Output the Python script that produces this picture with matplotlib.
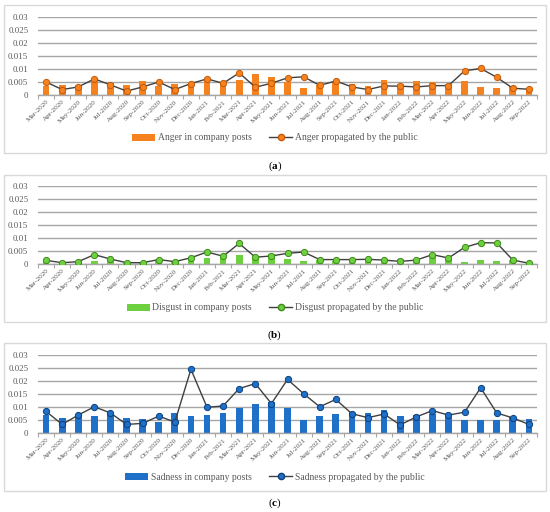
import numpy as np
import matplotlib
matplotlib.use('Agg')
import matplotlib.pyplot as plt
from matplotlib.patches import Rectangle
from matplotlib.lines import Line2D
from matplotlib.patches import Patch

plt.rcParams['font.family'] = ['Liberation Serif', 'DejaVu Serif']
plt.rcParams['mathtext.fontset'] = 'custom'
plt.rcParams['mathtext.rm'] = 'Liberation Serif'
plt.rcParams['mathtext.bf'] = 'Liberation Serif:bold'

months = ['Mar-2020', 'Apr-2020', 'May-2020', 'Jun-2020', 'Jul-2020', 'Aug-2020', 'Sep-2020',
          'Oct-2020', 'Nov-2020', 'Dec-2020', 'Jan-2021', 'Feb-2021', 'Mar-2021', 'Apr-2021',
          'May-2021', 'Jun-2021', 'Jul-2021', 'Aug-2021', 'Sep-2021', 'Oct-2021', 'Nov-2021',
          'Dec-2021', 'Jan-2022', 'Feb-2022', 'Mar-2022', 'Apr-2022', 'May-2022', 'Jun-2022',
          'Jul-2022', 'Aug-2022', 'Sep-2022']

anger_company = [0.0036, 0.0040, 0.0040, 0.0062, 0.0045, 0.0039, 0.0053, 0.0034, 0.0041, 0.0050,
                 0.0053, 0.0050, 0.0057, 0.0080, 0.0068, 0.0049, 0.0026, 0.0040, 0.0049, 0.0041,
                 0.0034, 0.0057, 0.0041, 0.0055, 0.0050, 0.0041, 0.0052, 0.0032, 0.0027, 0.0036,
                 0.0028]
anger_public = [0.0050, 0.0021, 0.0031, 0.0062, 0.0039, 0.0015, 0.0031, 0.0050, 0.0021, 0.0044,
                0.0062, 0.0045, 0.0085, 0.0030, 0.0045, 0.0066, 0.0070, 0.0037, 0.0054, 0.0031,
                0.0021, 0.0035, 0.0034, 0.0031, 0.0036, 0.0036, 0.0093, 0.0102, 0.0068, 0.0026,
                0.0022]

disgust_company = [0.0013, 0.0003, 0.0008, 0.0013, 0.0013, 0.0003, 0.0003, 0.0010, 0.0006, 0.0014,
                   0.0022, 0.0022, 0.0035, 0.0019, 0.0039, 0.0021, 0.0012, 0.0014, 0.0012, 0.0014,
                   0.0017, 0.0014, 0.0019, 0.0017, 0.0034, 0.0021, 0.0009, 0.0015, 0.0013, 0.0014,
                   0.0002]
disgust_public = [0.0014, 0.0005, 0.0009, 0.0036, 0.0019, 0.0005, 0.0005, 0.0017, 0.0009, 0.0024,
                  0.0046, 0.0030, 0.0079, 0.0026, 0.0031, 0.0041, 0.0046, 0.0017, 0.0017, 0.0017,
                  0.0018, 0.0015, 0.0010, 0.0015, 0.0036, 0.0023, 0.0064, 0.0082, 0.0081, 0.0015,
                  0.0003]

sadness_company = [0.0069, 0.0059, 0.0067, 0.0064, 0.0072, 0.0059, 0.0053, 0.0041, 0.0077, 0.0065,
                   0.0069, 0.0078, 0.0097, 0.0113, 0.0119, 0.0096, 0.0050, 0.0064, 0.0072, 0.0082,
                   0.0077, 0.0087, 0.0067, 0.0068, 0.0072, 0.0063, 0.0050, 0.0050, 0.0050, 0.0060,
                   0.0054]
sadness_public = [0.0083, 0.0033, 0.0069, 0.0101, 0.0077, 0.0033, 0.0037, 0.0065, 0.0042, 0.0245,
                  0.0099, 0.0104, 0.0171, 0.0190, 0.0113, 0.0206, 0.0151, 0.0101, 0.0129, 0.0074,
                  0.0059, 0.0073, 0.0031, 0.0062, 0.0086, 0.0069, 0.0080, 0.0174, 0.0077, 0.0058,
                  0.0033]

yticks = [0, 0.005, 0.01, 0.015, 0.02, 0.025, 0.03]
ytick_labels = ['0', '0.005', '0.01', '0.015', '0.02', '0.025', '0.03']

panels = [
    ('a', anger_company, anger_public, 'Anger', '#F5821F', '#C35A0A', 17, 138, 5, 153, 166),
    ('b', disgust_company, disgust_public, 'Disgust', '#6DD13F', '#3E8A1A', 186, 308, 175, 322, 335),
    ('c', sadness_company, sadness_public, 'Sadness', '#1F70C8', '#0D3F7A', 355, 477, 343, 491, 503),
]

W, H = 550, 512
fig = plt.figure(figsize=(5.5, 5.12), dpi=100)
grey = '#595959'
x = np.arange(len(months))

for letter, comp, pub, name, col, edge, top, leg_y, box_top, box_bot, lab_y in panels:
    # panel frame
    fig.patches.append(Rectangle((4 / W, 1 - box_bot / H), 542 / W, (box_bot - box_top) / H,
                                 transform=fig.transFigure, fill=False, edgecolor='#D9D9D9', lw=1))
    ax = fig.add_axes([38 / W, 1 - (top + 78) / H, 499 / W, 78 / H])
    ax.bar(x, comp, width=0.42, color=col, zorder=2)
    ax.plot(x, pub, color='#404040', lw=1, marker='o', ms=4.5, mfc=col, mec=edge, mew=0.7, zorder=3)
    ax.set_xlim(-0.5, len(months) - 0.5)
    ax.set_ylim(0, 0.03)
    ax.set_yticks(yticks)
    ax.set_yticklabels(ytick_labels, fontsize=6.4, color=grey)
    ax.set_xticks(x)
    ax.set_xticklabels(months, rotation=45, ha='right', rotation_mode='anchor', fontsize=5.2, color=grey)
    ax.tick_params(axis='x', length=0, pad=3)
    ax.set_xticks(np.arange(-0.5, len(months)), minor=True)
    ax.tick_params(axis='x', which='minor', length=3, color='#A6A6A6', width=0.8)
    ax.tick_params(axis='y', length=0, pad=7)
    ax.grid(axis='y', color='#A6A6A6', lw=1, zorder=0)
    for s in ['top', 'right', 'left']:
        ax.spines[s].set_visible(False)
    ax.spines['bottom'].set_color('#A6A6A6')
    ax.spines['bottom'].set_linewidth(1)
    ax.set_axisbelow(True)

    handles = [Patch(facecolor=col, label=name + ' in company posts'),
               Line2D([], [], color='#404040', lw=1, marker='o', ms=4.5, mfc=col, mec=edge,
                      label=name + ' propagated by the public')]
    fig.legend(handles=handles, loc='center', bbox_to_anchor=(0.5, 1 - leg_y / H), ncol=2,
               frameon=False, fontsize=6.9, labelcolor=grey, handlelength=2.4, columnspacing=1.8,
               handletextpad=0.3)
    fig.text(275 / W, 1 - lab_y / H, '(' + r'$\mathbf{' + letter + '}$' + ')', ha='center',
             va='center', fontsize=8, color='black')

fig.savefig('out.png', dpi=100)
